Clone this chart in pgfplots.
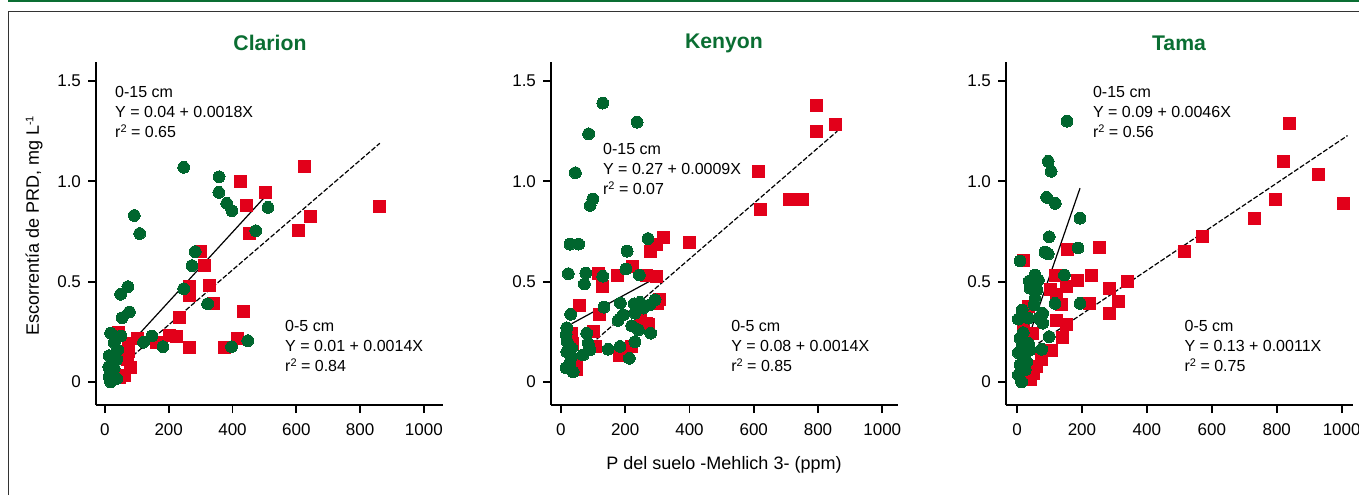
\documentclass[border=0pt]{standalone}
\usepackage{pgfplots}
\pgfplotsset{compat=1.18}
\usepackage{fontspec}
\setmainfont{Liberation Sans}
\definecolor{pgreen}{RGB}{0,102,46}
\definecolor{pred}{RGB}{226,0,26}
\definecolor{tgreen}{RGB}{10,110,50}
\pgfplotsset{panel/.style={
  scale only axis, width=173.5pt, height=171.5pt,
  anchor=south west,
  axis x line*=bottom, axis y line*=left,
  axis line style={line width=1pt, -},
  ymin=-0.115, ymax=1.595,
  xtick={0,200,400,600,800,1000}, xticklabels={0,200,400,600,800,1000},
  ytick={0,0.5,1,1.5}, yticklabels={0,0.5,1.0,1.5},
  tick align=outside, major tick length=4pt,
  every tick/.style={line width=0.9pt, black},
  ticklabel style={font=\fontsize{8.5}{10}\selectfont},
  xticklabel style={yshift=-2pt},
  clip=false,
},
rsq/.style={only marks, mark=square*, mark size=3pt, mark options={fill=pred, draw=pred, line width=0pt}},
gci/.style={only marks, mark=*, mark size=2.95pt, mark options={fill=pgreen, draw=pgreen, line width=0pt}},
solidfit/.style={black, line width=0.6pt, no marks},
dashfit/.style={black, line width=0.6pt, no marks, dash pattern=on 2.5pt off 1pt},
}
\newcommand{\ann}[3]{0-#1 cm\\Y = #2\\r{\fontsize{5.5}{6}\selectfont\raisebox{0.45em}{2}} = #3}
\tikzset{annot/.style={anchor=west, align=left, inner sep=0pt, font=\fontsize{8}{10}\selectfont}}
\begin{document}
\begin{tikzpicture}[x=1pt,y=1pt]
\useasboundingbox (0,0) rectangle (679.5,247.5);
\draw[tgreen, line width=0.8pt] (4,247.1) -- (679.5,247.1);
\draw[black!80, line width=0.6pt] (4.35,0) -- (4.35,241.75) -- (680,241.75);
% ---------------- Clarion
\begin{axis}[panel, at={(48pt,45pt)}, xmin=-28, xmax=1060]
\addplot[rsq] coordinates {(426,1.00)(505,0.944)(445,0.882)(452,0.74)(627,1.073)(645,0.824)(608,0.754)(862,0.874)(301,0.65)(313,0.58)(266,0.475)(266,0.43)(328,0.48)(340,0.39)(436,0.349)(234,0.32)(102,0.216)(204,0.232)(223,0.226)(163,0.196)(266,0.171)(374,0.174)(416,0.216)(41,0.246)(74,0.19)(74,0.15)(70,0.11)(80,0.07)(60,0.03)(45,0.02)(55,0.13)};
\addplot[gci] coordinates {(247,1.07)(358,1.023)(357,0.945)(382,0.89)(398,0.854)(511,0.87)(473,0.754)(92,0.83)(109,0.74)(283,0.65)(273,0.58)(72,0.475)(49,0.437)(247,0.465)(77,0.349)(54,0.32)(322,0.39)(18,0.244)(50,0.229)(147,0.229)(121,0.198)(182,0.176)(397,0.176)(448,0.206)(29,0.196)(40,0.16)(13,0.131)(37,0.113)(12,0.076)(29,0.068)(13,0.026)(37,0.017)(18,0.0)};
\addplot[solidfit] coordinates {(108,0.24)(500,0.92)};
\addplot[dashfit] coordinates {(87,0.13)(862,1.19)};
\node[annot] at (axis cs:31,1.347) {\ann{15}{0.04 + 0.0018X}{0.65}};
\node[annot] at (axis cs:564,0.181) {\ann{5}{0.01 + 0.0014X}{0.84}};
\end{axis}
% ---------------- Kenyon
\begin{axis}[panel, at={(275.5pt,45pt)}, xmin=-31, xmax=1049]
\addplot[rsq] coordinates {(794,1.38)(853,1.285)(794,1.247)(616,1.05)(622,0.86)(710,0.91)(752,0.91)(400,0.695)(318,0.718)(298,0.685)(280,0.652)(223,0.577)(116,0.543)(177,0.53)(267,0.53)(298,0.527)(130,0.477)(59,0.38)(121,0.335)(308,0.41)(300,0.39)(246,0.31)(272,0.285)(267,0.293)(100,0.252)(106,0.177)(220,0.177)(181,0.13)(33,0.243)(36,0.193)(49,0.06)(49,0.09)};
\addplot[gci] coordinates {(130,1.39)(237,1.295)(86,1.237)(45,1.043)(99,0.912)(91,0.88)(28,0.687)(55,0.687)(271,0.715)(206,0.652)(23,0.54)(77,0.543)(73,0.488)(130,0.527)(202,0.563)(244,0.533)(30,0.337)(134,0.373)(185,0.393)(178,0.307)(194,0.335)(228,0.39)(246,0.397)(230,0.343)(256,0.368)(277,0.385)(293,0.41)(220,0.28)(241,0.26)(279,0.243)(230,0.2)(184,0.177)(147,0.163)(213,0.118)(80,0.243)(85,0.193)(69,0.135)(90,0.16)(18,0.27)(16,0.235)(20,0.2)(33,0.17)(18,0.15)(16,0.07)(28,0.095)(38,0.05)(33,0.127)};
\addplot[solidfit] coordinates {(33,0.29)(285,0.51)};
\addplot[dashfit] coordinates {(111,0.213)(860,1.25)};
\node[annot] at (axis cs:130,1.061) {\ann{15}{0.27 + 0.0009X}{0.07}};
\node[annot] at (axis cs:529,0.181) {\ann{5}{0.08 + 0.0014X}{0.85}};
\end{axis}
% ---------------- Tama
\begin{axis}[panel, at={(503pt,45pt)}, xmin=-34, xmax=1035]
\addplot[rsq] coordinates {(838,1.29)(822,1.10)(930,1.033)(795,0.912)(1007,0.889)(730,0.813)(570,0.724)(517,0.65)(253,0.668)(154,0.658)(19,0.603)(341,0.5)(230,0.533)(286,0.464)(314,0.4)(286,0.342)(222,0.389)(187,0.508)(153,0.478)(117,0.533)(102,0.459)(122,0.434)(138,0.384)(122,0.306)(153,0.284)(141,0.223)(107,0.156)(76,0.113)(61,0.076)(40,0.01)(50,0.043)(35,0.375)(19,0.26)(48,0.243)};
\addplot[gci] coordinates {(154,1.30)(96,1.10)(105,1.05)(91,0.92)(118,0.89)(194,0.816)(99,0.724)(86,0.647)(96,0.638)(188,0.668)(9,0.603)(146,0.533)(117,0.392)(194,0.392)(99,0.226)(55,0.533)(38,0.503)(66,0.508)(40,0.467)(61,0.459)(55,0.417)(52,0.384)(16,0.359)(35,0.318)(4,0.313)(79,0.342)(79,0.293)(66,0.318)(19,0.246)(9,0.218)(35,0.193)(4,0.146)(19,0.118)(9,0.085)(25,0.06)(4,0.035)(14,0.0)(40,0.16)(76,0.163)(25,0.14)(30,0.1)(15,0.18)};
\addplot[solidfit] coordinates {(45,0.268)(194,0.966)};
\addplot[dashfit] coordinates {(66,0.193)(1018,1.228)};
\node[annot] at (axis cs:233,1.347) {\ann{15}{0.09 + 0.0046X}{0.56}};
\node[annot] at (axis cs:515,0.181) {\ann{5}{0.13 + 0.0011X}{0.75}};
\end{axis}
% titles and labels
\node[font=\bfseries\fontsize{10.6}{12}\selectfont, text=tgreen] at (135,226) {Clarion};
\node[font=\bfseries\fontsize{10.6}{12}\selectfont, text=tgreen] at (362,226) {Kenyon};
\node[font=\bfseries\fontsize{10.6}{12}\selectfont, text=tgreen] at (589.5,226) {Tama};
\node[rotate=90, font=\fontsize{9}{11}\selectfont] at (17,134.5) {Escorrentía de PRD, mg L{\fontsize{5.5}{6}\selectfont\raisebox{0.5em}{-1}}};
\node[font=\fontsize{9}{11}\selectfont] at (362,15) {P del suelo -Mehlich 3- (ppm)};
\end{tikzpicture}
\end{document}
